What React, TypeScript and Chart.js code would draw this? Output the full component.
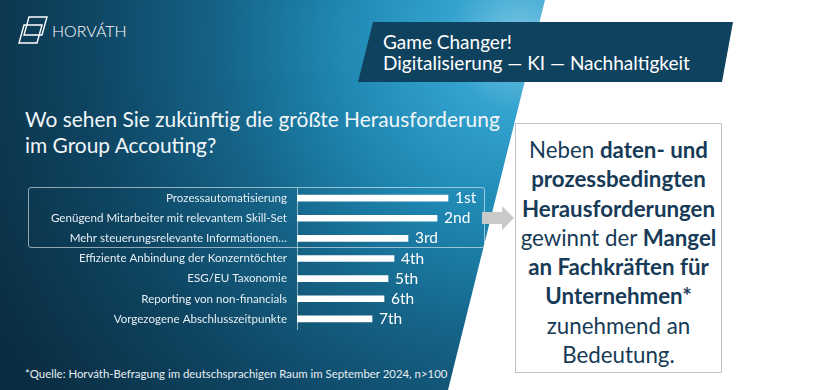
import React, { useEffect, useRef } from "react";
import { Chart, registerables } from "chart.js";

Chart.register(...registerables);

const categories = [
  "Prozessautomatisierung",
  "Genügend Mitarbeiter mit relevantem Skill-Set",
  "Mehr steuerungsrelevante Informationen…",
  "Effiziente Anbindung der Konzerntöchter",
  "ESG/EU Taxonomie",
  "Reporting von non-financials",
  "Vorgezogene Abschlusszeitpunkte",
];
const scores = [75.5, 70, 55.5, 48.5, 45.5, 43.5, 37.5];
const ranks = ["1st", "2nd", "3rd", "4th", "5th", "6th", "7th"];

const FONT = "Lato, 'Open Sans', sans-serif";

function BarChart() {
  const ref = useRef<HTMLCanvasElement | null>(null);
  useEffect(() => {
    if (!ref.current) return;
    const rankPlugin = {
      id: "rankLabels",
      afterDatasetsDraw(chart: any) {
        const ctx = chart.ctx;
        const meta = chart.getDatasetMeta(0);
        ctx.save();
        ctx.fillStyle = "#ffffff";
        ctx.font = "15.5px " + FONT;
        ctx.textAlign = "left";
        ctx.textBaseline = "middle";
        meta.data.forEach((bar: any, i: number) => {
          ctx.fillText(ranks[i], bar.x + 7, bar.y);
        });
        ctx.restore();
      },
    };
    const chart = new Chart(ref.current, {
      type: "bar",
      data: {
        labels: categories,
        datasets: [
          {
            data: scores,
            backgroundColor: "#ffffff",
            borderWidth: 0,
            barThickness: 6,
          },
        ],
      },
      options: {
        indexAxis: "y",
        responsive: false,
        animation: false,
        layout: { padding: { left: 0, right: 23, top: 8, bottom: 11 } },
        plugins: { legend: { display: false }, tooltip: { enabled: false } },
        scales: {
          x: { display: false, min: 0, max: 100 },
          y: {
            grid: { display: false, drawTicks: false },
            border: { display: true, color: "rgba(255,255,255,0.55)", width: 1 },
            ticks: {
              color: "#e6eef3",
              font: { family: FONT, size: 11.6 },
              padding: 10,
            },
            afterFit(scale: any) {
              scale.width = 297;
              scale.paddingTop = 0;
              scale.paddingBottom = 0;
            },
          },
        },
      },
      plugins: [rankPlugin],
    } as any);
    return () => chart.destroy();
  }, []);
  return (
    <canvas
      ref={ref}
      width={520}
      height={160}
      style={{ position: "absolute", left: 0, top: 180, width: 520, height: 160 }}
    />
  );
}

export default function App() {
  const abs = (s: React.CSSProperties): React.CSSProperties => ({ position: "absolute", ...s });
  const boxLines: React.ReactNode[] = [
    <>Neben <b>daten- und</b></>,
    <b>prozessbedingten</b>,
    <b>Herausforderungen</b>,
    <>gewinnt der <b>Mangel</b></>,
    <b>an Fachkräften für</b>,
    <b>Unternehmen*</b>,
    <>zunehmend an</>,
    <>Bedeutung.</>,
  ];
  return (
    <div
      style={{
        position: "fixed",
        left: 0,
        top: 0,
        width: 820,
        height: 390,
        overflow: "hidden",
        background: "#ffffff",
        fontFamily: FONT,
      }}
    >
      <div
        style={abs({
          left: 0,
          top: 0,
          width: 820,
          height: 390,
          clipPath: "polygon(0px 0px, 545px 0px, 448px 390px, 0px 390px)",
          background:
            "radial-gradient(circle 600px at 520px 40px, #7cc6e4 0%, #33a3cf 12%, #1f88b3 30%, #156387 50%, #0e4562 72%, #0a2c40 100%)",
        })}
      />
      {/* logo */}
      <svg style={abs({ left: 0, top: 0 })} width={140} height={60}>
        <polygon points="29,17 47,17 42,35 24,35" fill="none" stroke="#ffffff" strokeWidth={1.4} />
        <polygon points="24,25 42,25 37,43 19,43" fill="none" stroke="#ffffff" strokeWidth={1.4} />
      </svg>
      <div
        style={abs({
          left: 52,
          top: 21,
          color: "#ffffff",
          fontSize: 16,
          fontWeight: 300,
          letterSpacing: 0,
          lineHeight: "20px",
        })}
      >
        HORVÁTH
      </div>
      {/* banner */}
      <div
        style={abs({
          left: 0,
          top: 0,
          width: 820,
          height: 390,
          clipPath: "polygon(373px 22px, 733px 22px, 722px 82px, 358px 82px)",
          background: "#0f425e",
        })}
      />
      <div style={abs({ left: 383, top: 31, color: "#ffffff", fontSize: 19, lineHeight: "21px", whiteSpace: "nowrap" })}>
        Game Changer!
        <br />
        Digitalisierung — KI — Nachhaltigkeit
      </div>
      {/* title */}
      <div style={abs({ left: 25, top: 106, color: "#f2f6f8", fontSize: 20.9, lineHeight: "26px", whiteSpace: "nowrap" })}>
        Wo sehen Sie zukünftig die größte Herausforderung
        <br />
        im Group Accouting?
      </div>
      {/* highlight box */}
      <div
        style={abs({
          left: 28,
          top: 187,
          width: 457,
          height: 61,
          border: "1px solid rgba(255,255,255,0.55)",
          borderRadius: 3,
          boxSizing: "border-box",
        })}
      />
      <BarChart />
      {/* arrow */}
      <svg style={abs({ left: 470, top: 200 })} width={50} height={40}>
        <polygon points="12,12 32,12 32,6 44,18 32,30 32,24 12,24" fill="#c9c9c9" />
      </svg>
      {/* text box */}
      <div
        style={abs({
          left: 515,
          top: 123,
          width: 207,
          height: 250,
          border: "1px solid #b8c5ce",
          background: "#ffffff",
          boxSizing: "border-box",
        })}
      />
      <div
        style={abs({
          left: 515,
          top: 135,
          width: 207,
          color: "#173b57",
          fontSize: 22.3,
          lineHeight: "29.3px",
          textAlign: "center",
          whiteSpace: "nowrap",
        })}
      >
        {boxLines.map((l, i) => (
          <div key={i}>{l}</div>
        ))}
      </div>
      {/* footnote */}
      <div style={abs({ left: 25, top: 366, color: "#e6eef3", fontSize: 11.4, lineHeight: "16px", whiteSpace: "nowrap" })}>
        *Quelle: Horváth-Befragung im deutschsprachigen Raum im September 2024, n&gt;100
      </div>
    </div>
  );
}
